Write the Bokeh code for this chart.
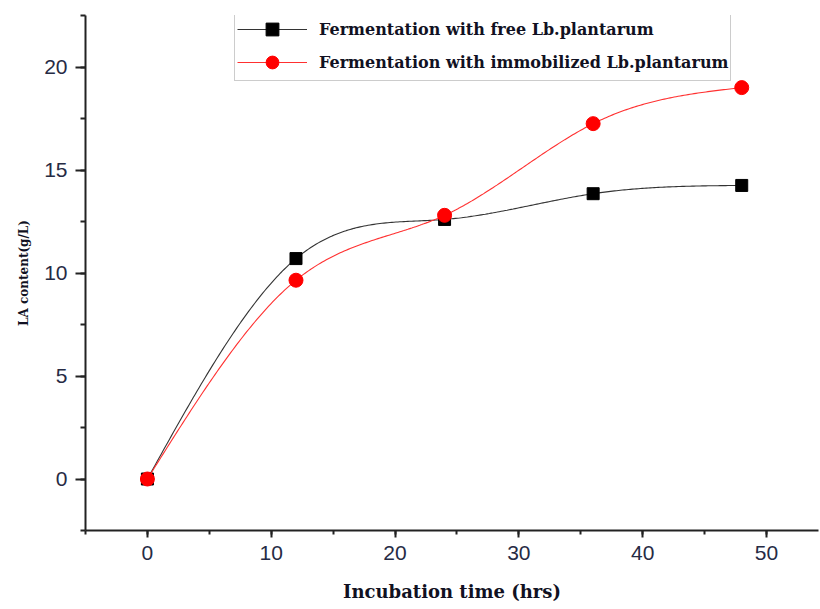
import numpy as np
from bokeh.plotting import figure
from bokeh.models import (Range1d, SingleIntervalTicker, Legend, LegendItem)
from bokeh.embed import file_html
from bokeh.resources import INLINE

# ---- data ----
hours = [0, 12, 24, 36, 48]
free_la = [0.0, 10.7, 12.6, 13.85, 14.25]
immob_la = [0.0, 9.65, 12.8, 17.25, 19.0]
label_free = "Fermentation with free Lb.plantarum"
label_immob = "Fermentation with immobilized Lb.plantarum"
x_title = "Incubation time (hrs)"
y_title = "LA content(g/L)"


def natural_spline(x, y, n=300):
    x = np.asarray(x, float)
    y = np.asarray(y, float)
    m = len(x)
    h = np.diff(x)
    A = np.zeros((m, m))
    b = np.zeros(m)
    A[0, 0] = 1
    A[-1, -1] = 1
    for i in range(1, m - 1):
        A[i, i - 1] = h[i - 1]
        A[i, i] = 2 * (h[i - 1] + h[i])
        A[i, i + 1] = h[i]
        b[i] = 6 * ((y[i + 1] - y[i]) / h[i] - (y[i] - y[i - 1]) / h[i - 1])
    M = np.linalg.solve(A, b)
    xs = np.linspace(x[0], x[-1], n)
    ys = np.empty_like(xs)
    for k, xv in enumerate(xs):
        i = min(np.searchsorted(x, xv, side="right") - 1, m - 2)
        t1 = x[i + 1] - xv
        t0 = xv - x[i]
        hi = h[i]
        ys[k] = (M[i] * t1 ** 3 / (6 * hi) + M[i + 1] * t0 ** 3 / (6 * hi)
                 + (y[i] / hi - M[i] * hi / 6) * t1
                 + (y[i + 1] / hi - M[i + 1] * hi / 6) * t0)
    return xs, ys


p = figure(width=820, height=609, output_backend="svg", toolbar_location=None,
           x_range=Range1d(-5, 54.2), y_range=Range1d(-2.5, 22.5),
           min_border_left=85, min_border_right=2, min_border_top=15,
           min_border_bottom=79)
p.outline_line_color = None
p.xgrid.visible = False
p.ygrid.visible = False
p.background_fill_color = "white"
p.border_fill_color = "white"

fx, fy = natural_spline(hours, free_la)
ix, iy = natural_spline(hours, immob_la)

l1 = p.line(fx, fy, line_color="#333333", line_width=1.1)
s1 = p.scatter(hours, free_la, marker="square", size=12, fill_color="black",
               line_color="black")
l2 = p.line(ix, iy, line_color="#ff3030", line_width=1.1)
s2 = p.scatter(hours, immob_la, marker="circle", size=14, fill_color="#ff0000",
               line_color="#ff0000")

tick_color = "#262b44"
serif = "DejaVu Serif"
p.xaxis.ticker = SingleIntervalTicker(interval=10, num_minor_ticks=2)
p.yaxis.ticker = SingleIntervalTicker(interval=5, num_minor_ticks=2)
for ax in (p.xaxis, p.yaxis):
    ax.axis_line_width = 2
    ax.axis_line_color = "#222222"
    ax.major_tick_line_width = 2
    ax.minor_tick_line_width = 2
    ax.major_tick_line_color = "#222222"
    ax.minor_tick_line_color = "#222222"
    ax.major_tick_in = 0
    ax.minor_tick_in = 0
    ax.major_label_text_font = "Liberation Sans"
    ax.major_label_text_font_size = "21px"
    ax.major_label_text_color = tick_color
    ax.axis_label_text_font = serif
    ax.axis_label_text_font_style = "bold"
    ax.axis_label_text_color = "#111122"

p.xaxis.major_tick_out = 7
p.xaxis.minor_tick_out = 4
p.xaxis.major_label_standoff = 8
p.yaxis.major_tick_out = 10
p.yaxis.minor_tick_out = 5
p.yaxis.major_label_standoff = 8

p.xaxis.axis_label = x_title
p.xaxis.axis_label_text_font_size = "18px"
p.xaxis.axis_label_standoff = 18
p.yaxis.axis_label = y_title
p.yaxis.axis_label_text_font_size = "12px"
p.yaxis.axis_label_standoff = 10

legend = Legend(items=[LegendItem(label=label_free, renderers=[l1, s1]),
                       LegendItem(label=label_immob, renderers=[l2, s2])],
                location=(149, 449))
legend.label_text_font = serif
legend.label_text_font_style = "bold"
legend.label_text_font_size = "16px"
legend.label_text_color = "#111122"
legend.glyph_width = 70
legend.glyph_height = 32
legend.label_height = 32
legend.label_standoff = 12
legend.spacing = 1
legend.padding = 2
legend.margin = 0
legend.border_line_color = "#999999"
legend.border_line_width = 1.5
legend.background_fill_alpha = 1.0
p.add_layout(legend, "center")

open("out.html", "w").write(file_html(p, INLINE))
